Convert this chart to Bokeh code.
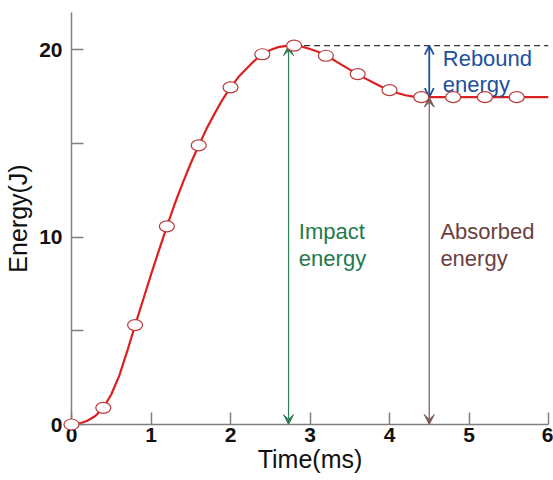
from bokeh.plotting import figure
from bokeh.models import Range1d, FixedTicker, Arrow, VeeHead, OpenHead, ColumnDataSource
from bokeh.core.properties import value
from bokeh.embed import file_html
from bokeh.resources import INLINE

# sampled markers
marker_t = [0.0, 0.4, 0.8, 1.2, 1.6, 2.0, 2.4, 2.8, 3.2, 3.6, 4.0, 4.4, 4.8, 5.2, 5.6]
marker_e = [0.0, 0.89, 5.31, 10.58, 14.9, 18.0, 19.77, 20.23, 19.69, 18.71, 17.85, 17.48, 17.48, 17.48, 17.48]

# curve
curve_t = [0.0, 0.1, 0.2, 0.3, 0.4, 0.5, 0.6, 0.7, 0.8, 0.9, 1.0, 1.1, 1.2, 1.3, 1.4, 1.5, 1.6,
           1.7, 1.8, 1.9, 2.0, 2.1, 2.2, 2.3, 2.4, 2.5, 2.6, 2.7, 2.8, 2.9, 3.0, 3.1, 3.2, 3.3,
           3.4, 3.5, 3.6, 3.7, 3.8, 3.9, 4.0, 4.1, 4.2, 4.3, 4.4, 4.6, 5.0, 5.5, 6.0]
curve_e = [0.0, 0.05, 0.2, 0.45, 0.89, 1.6, 2.6, 3.9, 5.31, 6.65, 8.0, 9.3, 10.58, 11.8, 12.9,
           13.95, 14.9, 15.8, 16.6, 17.35, 18.0, 18.55, 19.0, 19.42, 19.77, 20.0, 20.15, 20.22, 20.23,
           20.18, 20.05, 19.9, 19.69, 19.46, 19.2, 18.95, 18.71, 18.47, 18.25, 18.04, 17.85,
           17.7, 17.58, 17.51, 17.48, 17.48, 17.48, 17.48, 17.48]

impact_t = 2.73
absorbed_t = 4.5
peak_e = 20.23
final_e = 17.48

x_ticks = [0, 1, 2, 3, 4, 5, 6]
y_ticks = [0, 5, 10, 15, 20]
y_tick_labels = {0: "0", 5: "", 10: "10", 15: "", 20: "20"}

FONT = "Liberation Sans"
AXIS_C = "#808080"

p = figure(width=553, height=480, output_backend="svg", toolbar_location=None,
           x_range=Range1d(0, 6), y_range=Range1d(0, 22),
           min_border_left=71, min_border_right=5, min_border_top=12, min_border_bottom=56)
p.outline_line_color = None
p.grid.visible = False
p.background_fill_color = "white"

for ax in (p.xaxis[0], p.yaxis[0]):
    ax.axis_line_color = AXIS_C
    ax.axis_line_width = 1.5
    ax.major_tick_line_color = AXIS_C
    ax.major_tick_line_width = 1.5
    ax.major_tick_in = 12
    ax.major_tick_out = 0
    ax.minor_tick_line_color = None
    ax.major_label_text_font = FONT
    ax.major_label_text_font_style = "bold"
    ax.major_label_text_font_size = "21px"
    ax.major_label_text_color = "#111111"
    ax.axis_label_text_font = FONT
    ax.axis_label_text_font_style = "normal"
    ax.axis_label_text_font_size = "25px"
    ax.axis_label_text_color = "#111111"

p.xaxis.ticker = FixedTicker(ticks=x_ticks)
p.yaxis.ticker = FixedTicker(ticks=y_ticks)
p.yaxis.major_label_overrides = y_tick_labels
p.xaxis.axis_label = "Time(ms)"
p.yaxis.axis_label = "Energy(J)"
p.xaxis.major_label_standoff = 3
p.xaxis.axis_label_standoff = 0
p.yaxis.major_label_standoff = 9
p.yaxis.axis_label_standoff = 4

# dashed reference line at peak
p.line([marker_t[7], x_ticks[-1]], [peak_e, peak_e], line_color="#333333", line_width=1.2,
       line_dash="6 4")

# arrows
p.add_layout(Arrow(x_start=impact_t, y_start=0, x_end=impact_t, y_end=peak_e,
                   line_color="#2f7f57", line_width=1.2,
                   start=VeeHead(size=10, fill_color="#2f7f57", line_color="#2f7f57", line_width=1),
                   end=VeeHead(size=10, fill_color="#2f7f57", line_color="#2f7f57", line_width=1)))
p.add_layout(Arrow(x_start=absorbed_t, y_start=0, x_end=absorbed_t, y_end=final_e,
                   line_color="#7d5a5a", line_width=1.2,
                   start=VeeHead(size=10, fill_color="#7d5a5a", line_color="#7d5a5a", line_width=1),
                   end=VeeHead(size=10, fill_color="#7d5a5a", line_color="#7d5a5a", line_width=1)))
p.add_layout(Arrow(x_start=absorbed_t, y_start=final_e, x_end=absorbed_t, y_end=peak_e,
                   line_color="#1f4f9f", line_width=1.8,
                   start=OpenHead(size=9, line_color="#1f4f9f", line_width=1.8),
                   end=OpenHead(size=9, line_color="#1f4f9f", line_width=1.8)))

# curve
p.line(curve_t, curve_e, line_color="#dc2020", line_width=2.2, line_join="round")

# markers
src = ColumnDataSource(dict(t=marker_t, e=marker_e))
r = p.ellipse(x="t", y="e", width=15, height=11, width_units="screen", height_units="screen",
              source=src, fill_color="white", line_color="#b83a3a", line_width=1.2)
r.level = "overlay"

# texts
p.text(x=[2.86], y=[10.95], text=["Impact\nenergy"], text_font=value(FONT),
       text_font_size="22px", text_color="#1e7a4e", text_baseline="top", text_line_height=1.05)
p.text(x=[4.64], y=[10.95], text=["Absorbed\nenergy"], text_font=value(FONT),
       text_font_size="22px", text_color="#6b3f3f", text_baseline="top", text_line_height=1.05)
p.text(x=[4.67], y=[20.2], text=["Rebound\nenergy"], text_font=value(FONT),
       text_font_size="22px", text_color="#22509c", text_baseline="top", text_line_height=1.05)

open("out.html", "w").write(file_html(p, INLINE))
